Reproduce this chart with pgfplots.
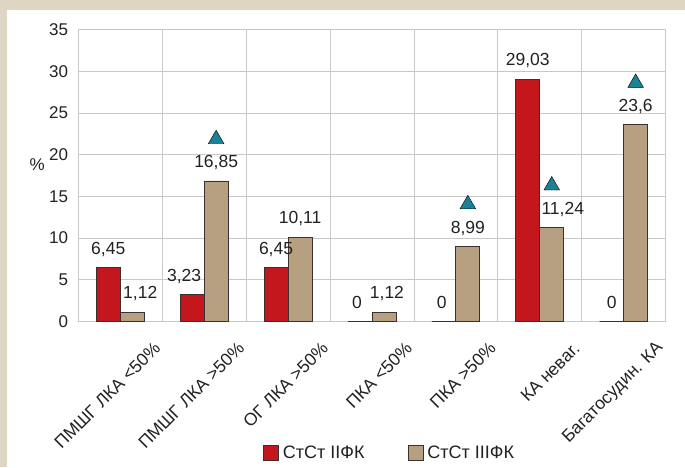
\documentclass[border=0pt]{standalone}
\usepackage{fontspec}
\setmainfont{Liberation Sans}
\usepackage{pgfplots}
\pgfplotsset{compat=1.18}

\definecolor{frame}{HTML}{DED6C3}
\definecolor{barred}{HTML}{C3161D}
\definecolor{bartan}{HTML}{B6A081}
\definecolor{mark}{HTML}{1A8196}
\definecolor{gridgray}{HTML}{C8C8C8}
\definecolor{edge}{HTML}{3A3030}
\definecolor{txt}{HTML}{222222}

\begin{document}
\begin{tikzpicture}
  % frame and white panel, in pt from the plot's lower left corner
  \fill[frame] (-78.3pt,-145.5pt) rectangle (606.7pt,321.5pt);
  \fill[white] (-71.3pt,-145.5pt) rectangle (606.7pt,311.5pt);
  \useasboundingbox (-78.3pt,-145.5pt) rectangle (606.7pt,321.5pt);
  \begin{axis}[
      at={(0,0)}, anchor=south west,
      scale only axis,
      width=587.3pt, height=292pt,
      ybar=0pt, bar width=24pt,
      xmin=-0.5, xmax=6.5,
      ymin=0, ymax=35,
      ytick={0,5,...,35},
      xtick={0,...,6},
      minor xtick={-0.5,0.5,...,6.5},
      xticklabels={ПМШГ ЛКА <50\%, ПМШГ ЛКА >50\%, ОГ ЛКА >50\%, ПКА <50\%, ПКА >50\%, КА невar., Багатосудин. КА},
      xmajorgrids=false, xminorgrids=true, ymajorgrids=true,
      grid style={gridgray, line width=0.8pt},
      minor grid style={gridgray, line width=0.8pt},
      axis line style={gridgray, line width=0.8pt},
      major tick length=0pt, minor tick length=0pt,
      tick style={draw=none},
      /pgf/number format/assume math mode=true,
      /pgf/number format/use comma,
      yticklabel style={font=\fontsize{17}{20}\selectfont, text=txt, anchor=east, inner sep=0pt, xshift=-10pt},
      xticklabel style={font=\fontsize{17.5}{20}\selectfont, text=txt, anchor=east, inner sep=0pt, xshift=37pt, yshift=-24pt, rotate=45},
      ylabel={\%},
      ylabel style={rotate=-90, at={(rel axis cs:-0.07,0.538)}, anchor=center, font=\fontsize{17}{20}\selectfont, text=txt},
      legend style={at={(rel axis cs:0.530,-0.449)}, anchor=center, draw=none, fill=none,
        legend columns=2, font=\fontsize{18}{21}\selectfont, text=txt,
        /tikz/every odd column/.append style={column sep=2pt},
        /tikz/every even column/.append style={column sep=41pt}},
      legend image code/.code={\draw[#1] (0pt,-7.5pt) rectangle (15pt,7.5pt);},
      nodes near coords style={font=\fontsize{17.5}{20}\selectfont, text=txt, anchor=base, inner sep=0pt, yshift=13.5pt, xshift=\dx pt},
    ]
    \addplot[fill=barred, draw=edge, line width=0.8pt, nodes near coords,
             visualization depends on={\thisrow{dx}\as\dx}]
      table {
        x y dx
        0 6.45 0
        1 3.23 -8
        2 6.45 0
        3 0 -3
        4 0 -2
        5 29.03 0
        6 0 0
      };
    \addplot[fill=bartan, draw=edge, line width=0.8pt, nodes near coords,
             visualization depends on={\thisrow{dx}\as\dx}]
      table {
        x y dx
        0 1.12 8
        1 16.85 0
        2 10.11 0
        3 1.12 3
        4 8.99 0
        5 11.24 11
        6 23.6 0
      };
    \addplot[only marks, mark=triangle*, mark size=9pt, mark options={fill=mark, draw=none}, forget plot]
      coordinates {(1.143,21.85) (4.143,14.05) (5.143,16.3) (6.143,28.6)};
    \legend{СтСт IIФК, СтСт IIIФК}
  \end{axis}
\end{tikzpicture}
\end{document}
